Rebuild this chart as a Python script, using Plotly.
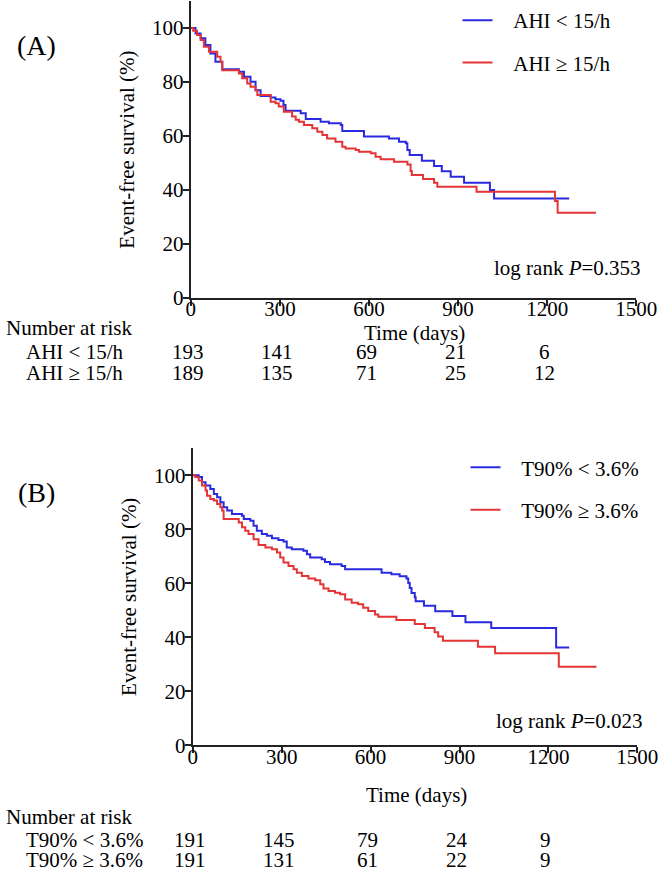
import plotly.graph_objects as go

# panel A: AHI groups (days, % event-free)
ahi_low_t = [0, 16, 33, 49, 66, 83, 106, 162, 179, 201, 218, 235, 269, 285, 302, 312, 319, 370, 387,
             437, 465, 505, 510, 583, 667, 701, 724, 729, 737, 778, 819, 845, 875, 920, 1007, 1021, 1274]
ahi_low_s = [100, 98.0, 96.2, 93.7, 90.6, 87.5, 84.7, 83.8, 82.0, 80.1, 77.0, 74.8, 74.3, 73.6, 73.1, 71.5, 69.4,
             68.4, 66.3, 65.3, 64.7, 64.1, 61.9, 59.8, 59.1, 57.9, 57.3, 54.8, 53.0, 50.9, 48.9, 47.0, 44.9, 42.7,
             40.0, 36.9, 36.9]
ahi_high_t = [0, 8, 21, 33, 44, 61, 89, 100, 106, 162, 173, 190, 201, 218, 224, 269, 285, 296, 313, 341, 353,
              364, 381, 409, 426, 443, 459, 487, 510, 521, 555, 566, 606, 622, 639, 684, 729, 740, 744, 782, 819,
              830, 962, 1226, 1235, 1364]
ahi_high_s = [100, 99.0, 97.4, 95.6, 93.1, 91.2, 89.4, 87.5, 84.4, 83.2, 81.4, 79.5, 78.3, 77.0, 75.2, 72.7,
              72.1, 70.9, 69.0, 67.2, 66.0, 65.3, 64.1, 62.9, 61.6, 60.4, 59.1, 57.9, 56.0, 55.4, 54.8, 54.2, 53.6,
              52.3, 51.4, 50.5, 49.5, 47.1, 45.6, 44.1, 42.7, 41.2, 39.4, 36.0, 31.6, 31.6]

# panel B: T90% groups
t90_low_t = [0, 20, 31, 43, 59, 71, 82, 93, 104, 116, 132, 166, 172, 194, 205, 216, 233, 250, 267, 289, 306,
             317, 334, 373, 385, 396, 435, 446, 463, 502, 514, 637, 670, 698, 721, 727, 732, 738, 749, 752, 780,
             818, 876, 920, 1007, 1226, 1270]
t90_low_s = [100, 99.3, 97.4, 96.2, 94.9, 93.0, 91.8, 90.0, 88.1, 86.9, 85.6, 85.0, 83.8, 83.1, 81.3, 79.4,
             78.2, 77.6, 76.7, 76.0, 75.5, 73.2, 72.6, 72.0, 70.7, 69.5, 68.9, 67.9, 67.0, 66.4, 65.2, 63.9, 63.3,
             62.6, 61.8, 60.1, 58.2, 56.4, 54.8, 53.3, 51.7, 49.6, 47.9, 45.6, 43.4, 36.2, 36.2]
t90_high_t = [0, 8, 20, 31, 43, 48, 59, 71, 82, 93, 99, 104, 155, 166, 177, 188, 205, 222, 245, 267, 284, 295,
              306, 323, 340, 351, 368, 390, 413, 430, 441, 458, 480, 497, 514, 536, 558, 575, 592, 615, 626, 687,
              749, 783, 816, 828, 844, 962, 1020, 1235, 1362]
t90_high_s = [100, 99.3, 98.0, 96.2, 94.3, 92.4, 91.2, 90.6, 89.3, 88.1, 86.9, 83.8, 82.5, 80.7, 79.4, 78.2,
              76.3, 74.2, 73.2, 72.6, 71.4, 69.5, 67.7, 66.4, 65.2, 63.9, 62.7, 61.8, 61.1, 59.6, 58.1, 57.1, 56.5,
              55.9, 54.0, 52.8, 52.2, 50.9, 49.7, 48.4, 47.6, 46.4, 44.9, 43.4, 41.9, 40.3, 38.7, 36.5, 34.1, 29.1,
              29.1]

risk_times = [0, 300, 600, 900, 1200]
risk_ahi_low = [193, 141, 69, 21, 6]
risk_ahi_high = [189, 135, 71, 25, 12]
risk_t90_low = [191, 145, 79, 24, 9]
risk_t90_high = [191, 131, 61, 22, 9]

BLUE = "#2a2ae0"
RED = "#e33535"
FONT = "Liberation Serif"
FS = 21
# the photographed page comes out slightly shrunk, so lay out on a bigger canvas
SX, AX, SY = 0.963, 2.0, 0.986
W, H = 684, 883
sp = "\u00a0\u00a0\u00a0"

fig = go.Figure()

curves = [
    (ahi_low_t, ahi_low_s, BLUE, sp + "AHI &lt; 15/h", "x", "y", "legend", "a1"),
    (ahi_high_t, ahi_high_s, RED, sp + "AHI ≥ 15/h", "x", "y", "legend", "a2"),
    (t90_low_t, t90_low_s, BLUE, sp + "T90% &lt; 3.6%", "x2", "y2", "legend2", "b1"),
    (t90_high_t, t90_high_s, RED, sp + "T90% ≥ 3.6%", "x2", "y2", "legend2", "b2"),
]
for t, s, col, name, xa, ya, leg, grp in curves:
    fig.add_trace(go.Scatter(
        x=t, y=s, mode="lines", line=dict(color=col, width=2, shape="hv"),
        name=name, xaxis=xa, yaxis=ya, legend=leg, legendgroup=grp,
    ))


# target picture pixel -> paper fraction
def px_x(p):
    return (p - AX) / SX / W


def px_y(p):
    return 1 - p / SY / H


axis_common = dict(
    showline=True, linecolor="#222222", linewidth=2, ticks="outside", ticklen=6,
    tickwidth=2, tickcolor="#222222", showgrid=False, zeroline=False,
    tickfont=dict(family=FONT, size=FS, color="black"), ticklabeloverflow="allow",
)
xcommon = dict(axis_common, range=[0, 1500], tickvals=[0, 300, 600, 900, 1200, 1500],
               ticklabelstandoff=-15)
ycommon = dict(axis_common, range=[0, 110], tickvals=[0, 20, 40, 60, 80, 100],
               ticklabelstandoff=-5,
               title=dict(text="Event-free survival (%)", font=dict(family=FONT, size=FS, color="black"),
                          standoff=12))

legend_common = dict(
    font=dict(family=FONT, size=FS, color="black"), bgcolor="rgba(0,0,0,0)",
    xanchor="left", yanchor="top", tracegroupgap=12, traceorder="grouped",
)

fig.update_layout(
    width=W, height=H, margin=dict(l=0, r=0, t=0, b=0),
    plot_bgcolor="white", paper_bgcolor="white",
    font=dict(family=FONT, size=FS, color="black"),
    xaxis=dict(xcommon, domain=[px_x(188), px_x(634)], anchor="y"),
    yaxis=dict(ycommon, domain=[px_y(298), px_y(1)], anchor="x"),
    xaxis2=dict(xcommon, domain=[px_x(190), px_x(635)], anchor="y2"),
    yaxis2=dict(ycommon, domain=[px_y(745), px_y(448)], anchor="x2"),
    legend=dict(legend_common, x=px_x(455), y=px_y(0)),
    legend2=dict(legend_common, x=px_x(463), y=px_y(447)),
)


def note(text, x, y, xref="paper", xanchor="center", **kw):
    return dict(text=text, x=x, y=y, xref=xref, yref="paper", xanchor=xanchor,
                yanchor="middle", showarrow=False, **kw)


ann = [
    note("(A)", px_x(34), px_y(45), font=dict(size=28)),
    note("(B)", px_x(34), px_y(492), font=dict(size=28)),
    note("log rank <i>P</i>=0.353", px_x(641), px_y(268), xanchor="right"),
    note("log rank <i>P</i>=0.023", px_x(643), px_y(721), xanchor="right"),
    note("Time (days)", px_x(412), px_y(333)),
    note("Time (days)", px_x(414), px_y(795)),
]

tables = [
    ("x", 328, [("AHI &lt; 15/h", risk_ahi_low, 352), ("AHI ≥ 15/h", risk_ahi_high, 373)]),
    ("x2", 817, [("T90% &lt; 3.6%", risk_t90_low, 840), ("T90% ≥ 3.6%", risk_t90_high, 860)]),
]
for xref, head_y, rows in tables:
    ann.append(note("Number at risk", px_x(1), px_y(head_y), xanchor="left"))
    for label, vals, ry in rows:
        ann.append(note(label, px_x(21), px_y(ry), xanchor="left"))
        for t, v in zip(risk_times, vals):
            ann.append(note(str(v), t, px_y(ry), xref=xref, xshift=-3))

fig.update_layout(annotations=ann)

# drop the default page margin so the figure starts at the window corner
fig.write_html("out.html", config={"displayModeBar": False},
               post_script="document.body.style.margin='0';"
                           "document.documentElement.style.overflow='hidden';")
